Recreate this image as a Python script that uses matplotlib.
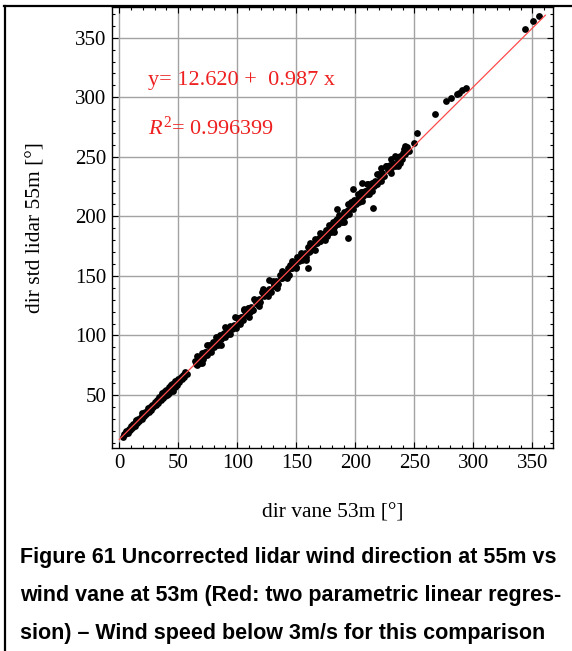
import matplotlib
matplotlib.use("Agg")
import matplotlib.pyplot as plt
from matplotlib.lines import Line2D
from matplotlib.ticker import MultipleLocator

plt.rcParams['font.family'] = ['Liberation Serif', 'DejaVu Serif']
plt.rcParams['mathtext.fontset'] = 'custom'
plt.rcParams['mathtext.rm'] = 'Liberation Serif'
plt.rcParams['mathtext.it'] = 'Liberation Serif:italic'

# fitted regression
intercept = 12.620
slope = 0.987
r2 = 0.996399
fit_x = [0.0, 361.0]

# low sector (vane 3..57 deg)
x_low = [3, 4, 5, 6, 7, 8, 9, 10, 11, 12, 13, 14, 15, 16, 17, 18, 19, 20,
         21, 22, 23, 24, 25, 26, 27, 28, 29, 30, 31, 32, 33, 34, 35, 36, 37,
         38, 39, 40, 41, 42, 43, 44, 45, 46, 47, 48, 49, 50, 51, 52, 53, 54,
         55, 56, 57,
         36.5, 40.5, 43.5, 45.5, 38.5, 47.5, 42.5, 44.5, 19.5, 24.5, 14.5]
y_low = [14.8, 17.5, 16.9, 19.6, 18.2, 21.8, 20.9, 23.9, 22.1, 26.0, 24.3,
         28.1, 26.2, 30.0, 28.1, 31.5, 29.8, 34.0, 32.2, 35.9, 33.6, 37.7,
         35.9, 40.1, 37.6, 41.5, 39.8, 43.9, 41.5, 45.8, 43.4, 47.9, 45.6,
         50.1, 47.3, 52.4, 49.0, 54.3, 50.8, 56.6, 53.0, 58.2, 54.6, 60.3,
         56.9, 61.8, 58.4, 63.7, 60.9, 65.2, 63.1, 67.0, 64.8, 69.2, 67.3,
         51.5, 49.8, 58.5, 53.6, 53.6, 61.5, 51.8, 59.4, 34.9, 39.3, 29.2]

# main band (vane 64..246 deg)
x_band = [64, 65.5, 67, 68.5, 70, 71.5, 73, 74.5, 76, 77.5, 79, 80.5, 82,
          83.5, 85, 86.5, 88, 89.5, 91, 92.5, 94, 95.5, 97, 98.5, 100,
          101.5, 103, 104.5, 106, 107.5, 109, 110.5, 112, 113.5, 115, 116.5,
          118, 119.5, 121, 122.5, 124, 125.5, 127, 128.5, 130, 131.5, 133,
          134.5, 136, 137.5, 139, 140.5, 142, 143.5, 145, 146.5, 148, 149.5,
          151, 152.5, 154, 155.5, 157, 158.5, 160, 161.5, 163, 164.5, 166,
          167.5, 169, 170.5, 172, 173.5, 175, 176.5, 178, 179.5, 181, 182.5,
          184, 185.5, 187, 188.5, 190, 191.5, 193, 194.5, 196, 197.5, 199,
          200.5, 202, 203.5, 205, 206.5, 208, 209.5, 211, 212.5, 214, 215.5,
          217, 218.5, 220, 221.5, 223, 224.5, 226, 227.5, 229, 230.5, 232,
          233.5, 235, 236.5, 238, 239.5, 241, 242.5, 244, 245.5]
y_band = [78.3, 75.5, 79.4, 77.0, 85.3, 82.3, 86.1, 83.6, 91.8, 88.8, 93.1,
          90.3, 94.2, 91.8, 100.1, 97.1, 100.9, 98.4, 106.6, 103.6, 107.9,
          105.1, 109.0, 106.6, 114.9, 111.9, 115.7, 113.2, 121.4, 118.4,
          122.7, 119.9, 123.8, 121.4, 129.7, 126.7, 130.5, 128.0, 136.3,
          133.2, 137.5, 134.7, 138.6, 136.3, 144.5, 141.5, 145.3, 142.8,
          151.1, 148.0, 152.3, 149.5, 153.4, 151.1, 159.3, 156.3, 160.1,
          157.6, 165.9, 162.8, 167.1, 164.3, 168.2, 165.9, 174.1, 171.1,
          174.9, 172.4, 180.7, 177.6, 181.9, 179.1, 183.0, 180.7, 188.9,
          185.9, 189.7, 187.2, 195.5, 192.5, 196.7, 193.9, 197.8, 195.5,
          203.8, 200.7, 204.5, 202.0, 212.3, 209.3, 213.5, 210.7, 214.6,
          212.3, 220.6, 217.5, 221.3, 218.8, 227.1, 224.1, 228.3, 225.5,
          229.4, 227.1, 235.4, 232.3, 236.1, 233.6, 241.9, 238.9, 243.1,
          240.3, 244.2, 241.9, 250.2, 247.2, 250.9, 248.4, 256.7, 253.7,
          257.9, 255.1]

x_band2 = [64.75, 67.75, 70.75, 73.75, 76.75, 79.75, 82.75, 85.75, 88.75,
           91.75, 94.75, 97.75, 100.75, 103.75, 106.75, 109.75, 112.75,
           115.75, 118.75, 121.75, 124.75, 127.75, 130.75, 133.75, 136.75,
           139.75, 142.75, 145.75, 148.75, 151.75, 154.75, 157.75, 160.75,
           163.75, 166.75, 169.75, 172.75, 175.75, 178.75, 181.75, 184.75,
           187.75, 190.75, 193.75, 196.75, 199.75, 202.75, 205.75, 208.75,
           211.75, 214.75, 217.75, 220.75, 223.75, 226.75, 229.75, 232.75,
           235.75, 238.75, 241.75]
y_band2 = [76.0, 81.3, 80.3, 86.3, 87.1, 94.2, 94.5, 96.8, 102.0, 101.0,
           107.0, 107.8, 115.0, 115.2, 117.5, 122.7, 121.7, 127.8, 128.5,
           135.7, 136.0, 138.2, 143.5, 142.4, 148.5, 149.3, 156.4, 156.7,
           158.9, 164.2, 163.2, 169.2, 170.0, 177.1, 177.4, 179.7, 184.9,
           183.9, 190.0, 190.7, 197.9, 198.1, 200.4, 205.7, 206.6, 212.7,
           213.4, 220.6, 220.9, 223.1, 228.4, 227.3, 233.4, 234.2, 241.3,
           241.6, 243.8, 249.1, 248.1, 254.1]

# outer edge of the band
x_edge = [66, 70, 74, 78, 82, 86, 90, 94, 98, 102, 106, 110, 114, 118, 122,
          126, 130, 134, 138, 142, 146, 150, 154, 158, 162, 166, 170, 174,
          178, 182, 186, 190, 194, 198, 202, 206, 210, 214, 218, 222, 226,
          230, 234, 238, 242]
y_edge = [83.0, 77.1, 91.7, 85.7, 98.4, 92.1, 106.7, 100.8, 115.4, 109.4,
          122.0, 115.8, 130.3, 124.5, 139.0, 133.1, 145.7, 139.5, 154.0,
          148.2, 162.7, 156.8, 169.4, 163.2, 177.7, 171.9, 186.4, 180.5,
          193.1, 186.9, 201.4, 195.6, 210.1, 206.2, 218.8, 212.5, 227.1,
          221.2, 235.8, 229.8, 242.5, 236.2, 250.8, 244.9, 259.5]

# scattered points away from the band
x_out = [343.8, 350.8, 355.7, 267.5, 276.6, 280.8, 288.2, 290.7, 293.5,
         286.0, 252.5, 250.0, 198.3, 215.3, 184.2, 194.0, 160.2, 127.0,
         206.0, 222.0, 230.0, 212.0, 236.0, 240.7, 242.0]
y_out = [357.5, 364.3, 368.5, 285.7, 297.1, 299.4, 303.8, 306.1, 308.0,
         302.5, 269.7, 261.8, 222.7, 206.8, 206.0, 181.6, 156.9, 146.6,
         228.0, 240.5, 248.0, 219.0, 242.0, 252.9, 252.3]

x_ticks = [0, 50, 100, 150, 200, 250, 300, 350]
y_ticks = [50, 100, 150, 200, 250, 300, 350]

caption = ["Figure 61 Uncorrected lidar wind direction at 55m vs",
           "wind vane at 53m (Red: two parametric linear regres-",
           "sion) \u2013 Wind speed below 3m/s for this comparison"]

fig = plt.figure(figsize=(5.72, 6.51), dpi=100)
ax = fig.add_axes([0.1953, 0.3114, 0.7715, 0.6778])

pts_x = x_low + x_band + x_band2 + x_edge + x_out
pts_y = y_low + y_band + y_band2 + y_edge + y_out
ax.scatter(pts_x, pts_y, s=24, c='black', linewidths=0, zorder=3)

fit_y = [intercept + slope * v for v in fit_x]
ax.plot(fit_x, fit_y, color='#ff4a4a', lw=0.9, zorder=4)

ax.set_xlim(-6.4, 367.5)
ax.set_ylim(5.2, 375.8)
ax.set_xticks(x_ticks)
ax.set_yticks(y_ticks)
ax.xaxis.set_minor_locator(MultipleLocator(10))
ax.yaxis.set_minor_locator(MultipleLocator(10))
ax.tick_params(which='both', direction='in', top=True, right=True,
               width=0.8, labelsize=15, colors='black')
ax.tick_params(which='major', length=4.5, pad=4)
ax.tick_params(which='minor', length=2.5)
ax.grid(True, which='major', color='#a3a3a3', lw=1.0, zorder=0)
ax.set_axisbelow(True)
for sp in ax.spines.values():
    sp.set_linewidth(1.0)

ax.set_xlabel('dir vane 53m [\u00b0]', fontsize=15.5, labelpad=22)
ax.set_ylabel('dir std lidar 55m [\u00b0]', fontsize=15.5, labelpad=21)

ax.text(24.3, 314.5, 'y= 12.620 +  0.987 x', color='#ee2020', fontsize=16,
        va='center', ha='left')
ax.text(24.3, 274.2, '$R^2$= 0.996399', color='#ee2020', fontsize=16,
        va='center', ha='left')

# frame of the figure box
fig.add_artist(Line2D([0.0087, 0.0087], [0.0, 0.9908], transform=fig.transFigure,
                      color='black', lw=1.6))
fig.add_artist(Line2D([0.0070, 1.0], [0.9908, 0.9908], transform=fig.transFigure,
                      color='black', lw=1.6))

for i, line in enumerate(caption):
    fig.text(0.035, 1 - (558 + 37.5 * i) / 651, line, fontsize=15.5,
             fontweight='bold', family=['Liberation Sans', 'DejaVu Sans'],
             va='center', ha='left')

fig.savefig('out.png', dpi=100)
